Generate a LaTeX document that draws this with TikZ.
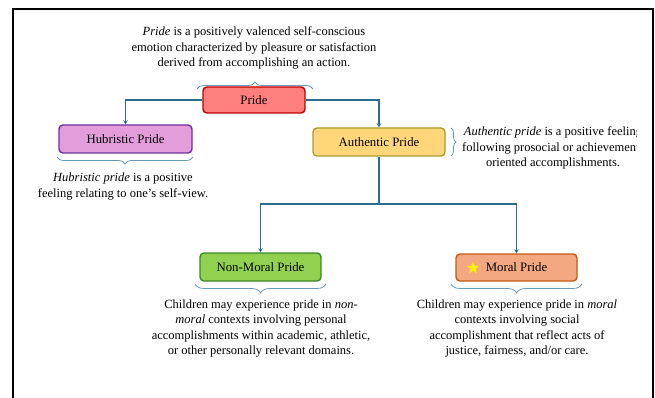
\documentclass[tikz,border=0pt]{standalone}
\usepackage{fontspec}
\setmainfont{Liberation Serif}
\usetikzlibrary{arrows.meta,decorations.pathreplacing,shapes.geometric}
\definecolor{conncol}{HTML}{2E6B8C}
\definecolor{bracecol}{HTML}{6A98B8}
\definecolor{pridefill}{HTML}{FF7F7F}
\definecolor{prideline}{HTML}{C00000}
\definecolor{hubfill}{HTML}{E39DDB}
\definecolor{hubline}{HTML}{7030A0}
\definecolor{authfill}{HTML}{FFD77A}
\definecolor{authline}{HTML}{A89C2C}
\definecolor{nmfill}{HTML}{92D050}
\definecolor{nmline}{HTML}{3A8A28}
\definecolor{mpfill}{HTML}{F4A882}
\definecolor{mpline}{HTML}{C55A11}
\tikzset{
  boxstyle/.style={draw, line width=1.4pt, rounded corners=4pt, inner sep=0pt, font=\fontsize{12.8}{14}\selectfont},
  conn/.style={draw=conncol, line width=1.5pt, -{Stealth[length=4pt,width=4.5pt]}},
  bracestyle/.style={draw=bracecol, line width=0.8pt, decorate},
  desc/.style={align=center, inner sep=0pt, font=\fontsize{12.5}{15.3}\selectfont},
}
\begin{document}
\begin{tikzpicture}[x=1pt,y=-1pt]
\useasboundingbox (0,0) rectangle (655,398);
% frame
\draw[line width=2pt, black] (13,400) -- (13,9) -- (653,9) -- (653,400);

% boxes
\node[boxstyle, fill=pridefill, draw=prideline, minimum width=102pt, minimum height=26pt] (pride) at (254,100) {Pride};
\node[boxstyle, fill=hubfill, draw=hubline, minimum width=133pt, minimum height=28pt] (hub) at (125.5,139) {Hubristic Pride};
\node[boxstyle, fill=authfill, draw=authline, minimum width=132pt, minimum height=28pt] (auth) at (379,142) {Authentic Pride};
\node[boxstyle, fill=nmfill, draw=nmline, minimum width=121pt, minimum height=28pt] (nm) at (260.5,267) {Non-Moral Pride};
\node[boxstyle, fill=mpfill, draw=mpline, minimum width=121pt, minimum height=27pt] (mp) at (516.5,267.5) {Moral Pride};
\node[star, star points=5, star point ratio=2.4, fill=yellow, draw=none, minimum size=13pt, inner sep=0pt] (star) at (473,268) {};

% connectors
\draw[conn] (pride.west) -| (hub.north);
\draw[conn] (pride.east) -| (auth.north);
\coordinate (split) at (379,204);
\draw[draw=conncol, line width=1.5pt] (auth.south) -- (split);
\draw[conn] (split) -| (nm.north);
\draw[conn] (split) -| (mp.north);

% braces
\draw[bracestyle, decoration={brace, amplitude=7pt}] (197,89) -- (313,89);
\draw[bracestyle, decoration={brace, amplitude=7pt}] (193,157) -- (57,157);
\draw[bracestyle, decoration={brace, amplitude=5pt}] (451,128) -- (451,156);
\draw[bracestyle, decoration={brace, amplitude=9pt}] (326,284) -- (195,284);
\draw[bracestyle, decoration={brace, amplitude=9pt}] (582,284) -- (451,284);

% descriptions
\node[desc] (tdesc) at (254,48) {\textit{Pride} is a positively valenced self-conscious\\emotion characterized by pleasure or satisfaction\\derived from accomplishing an action.};
\node[desc] (hdesc) at (123,186.5) {\textit{Hubristic pride} is a positive\\feeling relating to one’s self-view.};
\begin{scope}
\clip (0,0) rectangle (636,398);
\node[desc] (adesc) at (553,148) {\textit{Authentic pride} is a positive feeling\\following prosocial or achievement-\\oriented accomplishments.};
\end{scope}
\node[desc] (nmdesc) at (261,328.5) {Children may experience pride in \textit{non-}\\\textit{moral} contexts involving personal\\accomplishments within academic, athletic,\\or other personally relevant domains.};
\node[desc] (mpdesc) at (517,328.5) {Children may experience pride in \textit{moral}\\contexts involving social\\accomplishment that reflect acts of\\justice, fairness, and/or care.};
\end{tikzpicture}
\end{document}
